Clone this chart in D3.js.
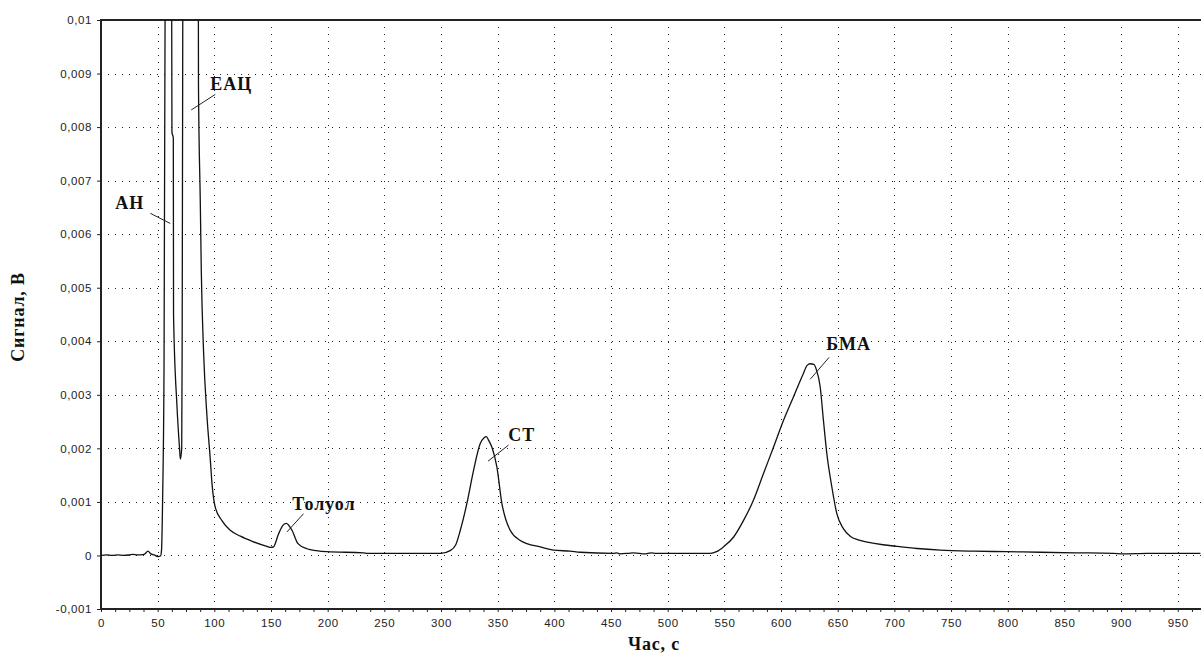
<!DOCTYPE html>
<html>
<head>
<meta charset="utf-8">
<script src="https://cdn.jsdelivr.net/npm/d3@7"></script>
<style>
  body { margin: 0; background: #fff; }
  svg { display: block; }
  .tick text { font-family: "Liberation Sans", Arial, sans-serif; font-size: 11.5px; fill: #222; letter-spacing: 0.6px; }
  .title, .peak-label { font-family: "Liberation Serif", "Times New Roman", serif; font-weight: bold; fill: #111; }
  .grid line { stroke: #222; stroke-width: 1; stroke-dasharray: 1,6; shape-rendering: crispEdges; }
  .frame { stroke: #222; stroke-width: 1.3; fill: none; shape-rendering: crispEdges; }
  .trace { fill: none; stroke: #111; stroke-width: 1.3; stroke-linejoin: round; }
  .leader { stroke: #222; stroke-width: 1; }
</style>
</head>
<body>
<svg width="1201" height="653"></svg>
<script>
var time = [0, 5, 10, 15, 20, 25, 28, 32, 38, 41.5, 44, 47, 50, 52.5, 53.4, 54.4, 55.6, 56.8, 58.5,
  61.5, 62.3, 62.6, 63.8, 64.0, 67, 69.3, 70, 71.2, 71.6, 72.3, 74, 84, 85.8, 86.0, 87.6, 88.5, 90.5,
  93.5, 96.4, 97.9, 100.8, 106.7, 114, 123, 134, 146.4, 150, 152.2, 156.6, 160, 163.4, 168.5, 173.8,
  181.7, 190, 199.3, 231.6, 235, 264, 300, 308, 313, 317, 322.8, 328.7, 334.6, 338, 340, 342, 344.9,
  349.3, 353.7, 357, 361, 369.9, 375.8, 387.5, 399.2, 414, 422.8, 452, 455, 458, 465, 470, 480, 485,
  490, 537.5, 543, 549.2, 558, 566.8, 575.6, 584.5, 593.3, 602.1, 610.9, 619.7, 623, 625.7, 629, 631,
  634.5, 637.4, 640.4, 644.8, 649.2, 655, 661, 668, 676, 690, 702, 720, 740.3, 770, 799, 828.5,
  860, 893, 902, 922.6, 950, 970];

var signal = [0, 0.00001, 0, 0.00001, 0, 0.00001, 0.00002, 0.00001, 0.00002, 0.00008, 0.00003, 0.00001,
  -0.00002, -0.00001, 0.0001, 0.0011, 0.0035, 0.012, 0.03,
  0.03, 0.011, 0.0079, 0.0078, 0.0045, 0.0028, 0.002, 0.0018, 0.002, 0.0039, 0.012, 0.03, 0.03, 0.012,
  0.0088, 0.0066, 0.0053, 0.0038,
  0.0026, 0.0018, 0.00135, 0.0009, 0.00065, 0.00047, 0.00036, 0.00026, 0.00017, 0.00015, 0.00016,
  0.0004, 0.00055, 0.0006, 0.00047, 0.00022,
  0.000125, 0.00009, 0.00007, 0.00005, 0.00004, 0.00004, 0.00004, 0.00009, 0.0002, 0.00047, 0.00097,
  0.00159, 0.00209, 0.0022, 0.00222, 0.00215, 0.00202,
  0.00165, 0.00097, 0.00068, 0.00047, 0.00028, 0.00022, 0.00016, 0.0001, 0.00008, 0.00006, 0.00004,
  0.00005, 0.00003, 0.00004, 0.00005, 0.00003, 0.00005,
  0.00004, 0.00004, 0.00007, 0.00016, 0.00034, 0.00065, 0.00103, 0.00153, 0.00202, 0.00252, 0.00296,
  0.0034, 0.00355, 0.00358, 0.00357, 0.00348,
  0.00315, 0.00252, 0.0019, 0.00128, 0.00078, 0.0005, 0.00036, 0.00029, 0.00025, 0.0002, 0.00017,
  0.00013, 0.0001, 0.00008, 0.00007, 0.00006,
  0.00005, 0.00004, 0.00003, 0.00004, 0.00004, 0.00004];

var xTicks = [0, 50, 100, 150, 200, 250, 300, 350, 400, 450, 500, 550, 600, 650, 700, 750, 800, 850, 900, 950];
var yTicks = [-0.001, 0, 0.001, 0.002, 0.003, 0.004, 0.005, 0.006, 0.007, 0.008, 0.009, 0.01];

var peakNames = ["АН", "ЕАЦ", "Толуол", "СТ", "БМА"];
var labelAt = [[12.6, 0.00647], [96.4, 0.00869], [168.7, 0.00084], [359.3, 0.00214], [639.8, 0.00383]];
var leaderFrom = [[43.5, 0.00639], [100.8, 0.00861], [178.7, 0.00078], [359.5, 0.00206], [642.4, 0.0037]];
var leaderTo = [[61.1, 0.0062], [79.6, 0.00832], [164.1, 0.00044], [341.4, 0.00176], [625.7, 0.00329]];

var svg = d3.select('svg');
var plotLeft = 101, plotRight = 1201, plotTop = 20, plotBottom = 609;

var x = d3.scaleLinear().domain([0, 970.5]).range([plotLeft, plotRight]);
var y = d3.scaleLinear().domain([-0.001, 0.01]).range([plotBottom, plotTop]);

var fmt = function(d) {
  return (+d.toFixed(3)).toString().replace('.', ',');
};

svg.append('defs').append('clipPath').attr('id', 'plot')
  .append('rect')
  .attr('x', plotLeft).attr('y', plotTop)
  .attr('width', plotRight - plotLeft).attr('height', plotBottom - plotTop);

// dotted grid
var grid = svg.append('g').attr('class', 'grid');
grid.selectAll('.vg').data(xTicks.slice(1)).enter().append('line')
  .attr('x1', function(d) { return Math.round(x(d)) + 0.5; })
  .attr('x2', function(d) { return Math.round(x(d)) + 0.5; })
  .attr('y1', plotTop).attr('y2', plotBottom);
grid.selectAll('.hg').data(yTicks.slice(1, -1)).enter().append('line')
  .attr('y1', function(d) { return Math.round(y(d)) + 0.5; })
  .attr('y2', function(d) { return Math.round(y(d)) + 0.5; })
  .attr('x1', plotLeft).attr('x2', plotRight);

// axes
svg.append('g')
  .attr('transform', 'translate(' + plotLeft + ',0)')
  .call(d3.axisLeft(y).tickValues(yTicks).tickFormat(fmt).tickSize(4).tickSizeOuter(0).tickPadding(5));

svg.append('g')
  .attr('transform', 'translate(0,' + plotBottom + ')')
  .call(d3.axisBottom(x).tickValues(xTicks).tickFormat(d3.format('d')).tickSize(3).tickSizeOuter(0).tickPadding(7));

var minor = d3.range(0, 970, 12.5).filter(function(d) { return d % 50 !== 0; });
svg.append('g')
  .attr('transform', 'translate(0,' + plotBottom + ')')
  .call(d3.axisBottom(x).tickValues(minor).tickFormat('').tickSize(3).tickSizeOuter(0));

svg.selectAll('.domain').remove();
svg.selectAll('.tick line').attr('stroke', '#222');

svg.append('path').attr('class', 'frame')
  .attr('d', 'M' + plotRight + ',' + plotTop + 'H' + plotLeft + 'V' + plotBottom + 'H' + plotRight);

// chromatogram
var line = d3.line()
  .curve(d3.curveMonotoneX)
  .x(function(d) { return x(d[0]); })
  .y(function(d) { return y(d[1]); });

svg.append('path')
  .datum(d3.zip(time, signal))
  .attr('class', 'trace')
  .attr('clip-path', 'url(#plot)')
  .attr('d', line);

// peak labels
var labels = svg.append('g');
peakNames.forEach(function(name, i) {
  labels.append('line').attr('class', 'leader')
    .attr('x1', x(leaderFrom[i][0])).attr('y1', y(leaderFrom[i][1]))
    .attr('x2', x(leaderTo[i][0])).attr('y2', y(leaderTo[i][1]));
  labels.append('text').attr('class', 'peak-label')
    .attr('x', x(labelAt[i][0])).attr('y', y(labelAt[i][1]))
    .style('font-size', '18px')
    .style('letter-spacing', '1px')
    .text(name);
});

// axis titles
svg.append('text').attr('class', 'title')
  .attr('x', (plotLeft + plotRight) / 2 + 3).attr('y', 650)
  .attr('text-anchor', 'middle')
  .style('font-size', '18px')
  .style('letter-spacing', '0.8px')
  .text('Час, с');

svg.append('text').attr('class', 'title')
  .attr('transform', 'translate(24,317) rotate(-90)')
  .attr('text-anchor', 'middle')
  .style('font-size', '18px')
  .style('letter-spacing', '0.8px')
  .text('Сигнал, В');
</script>
</body>
</html>
